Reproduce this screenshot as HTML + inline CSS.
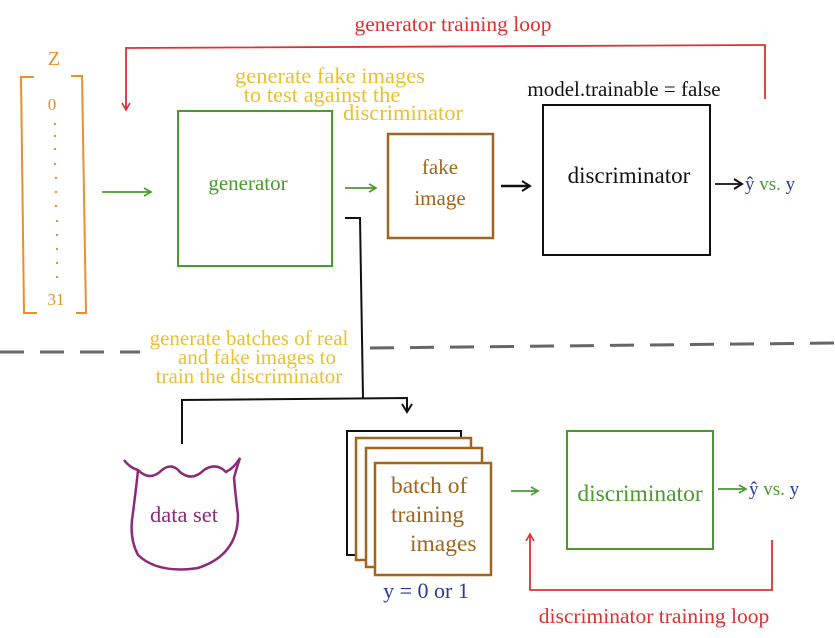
<!DOCTYPE html>
<html><head><style>
html,body{margin:0;padding:0;background:#fff;}
svg{display:block;font-family:"Liberation Serif",serif;}
</style></head><body>
<svg width="835" height="638" viewBox="0 0 835 638" xmlns="http://www.w3.org/2000/svg">
<defs>
<marker id="ag" markerWidth="10" markerHeight="10" refX="8" refY="5" orient="auto" markerUnits="userSpaceOnUse"><path d="M1,1 L8,5 L1,9" fill="none" stroke="#4a9a2e" stroke-width="1.6"/></marker>
<marker id="ak" markerWidth="12" markerHeight="12" refX="9" refY="6" orient="auto" markerUnits="userSpaceOnUse"><path d="M1,1 L9,6 L1,11" fill="none" stroke="#111" stroke-width="2"/></marker>
<marker id="ar" markerWidth="10" markerHeight="10" refX="8" refY="5" orient="auto" markerUnits="userSpaceOnUse"><path d="M1,1 L8,5 L1,9" fill="none" stroke="#e03030" stroke-width="1.6"/></marker>
</defs>
<text x="453" y="31" fill="#e03030" font-size="21.5" text-anchor="middle">generator training loop</text>
<polyline points="765,99 765,45 126,48 126,110" fill="none" stroke="#e03030" stroke-width="1.8" marker-end="url(#ar)"/>
<text x="54" y="65" fill="#e8902a" font-size="20" text-anchor="middle">Z</text>
<polyline points="34,77 21,77 24,313 37,313" fill="none" stroke="#e8902a" stroke-width="2"/>
<polyline points="71,76 82,76 86,313 76,313" fill="none" stroke="#e8902a" stroke-width="2"/>
<text x="52" y="110" fill="#e8902a" font-size="17" text-anchor="middle">0</text>
<g fill="#e8902a">
<circle cx="55" cy="124" r="1.2"/><circle cx="55" cy="136" r="1.2"/><circle cx="55" cy="149" r="1.2"/><circle cx="55" cy="164" r="1.2"/><circle cx="56" cy="178" r="1.2"/><circle cx="56" cy="192" r="1.2"/><circle cx="56" cy="206" r="1.2"/><circle cx="57" cy="221" r="1.2"/><circle cx="57" cy="235" r="1.2"/><circle cx="57" cy="249" r="1.2"/><circle cx="57" cy="263" r="1.2"/><circle cx="57" cy="277" r="1.2"/>
</g>
<text x="56" y="305" fill="#e8902a" font-size="17" text-anchor="middle">31</text>
<line x1="102" y1="192" x2="151" y2="192" stroke="#4a9a2e" stroke-width="1.8" marker-end="url(#ag)"/>
<rect x="178" y="111" width="154" height="155" fill="none" stroke="#4a9a2e" stroke-width="2"/>
<text x="248" y="190" fill="#4a9a2e" font-size="21" text-anchor="middle">generator</text>
<text fill="#e8c030" font-size="22.5" text-anchor="middle"><tspan x="330" y="83">generate fake images</tspan><tspan x="322" y="102">to test against the</tspan><tspan x="403" y="120">discriminator</tspan></text>
<line x1="345" y1="188" x2="376" y2="188" stroke="#4a9a2e" stroke-width="1.8" marker-end="url(#ag)"/>
<rect x="388" y="134" width="105" height="104" fill="none" stroke="#a0661e" stroke-width="2.5"/>
<text fill="#a0661e" font-size="21" text-anchor="middle"><tspan x="440" y="174">fake</tspan><tspan x="440" y="205">image</tspan></text>
<line x1="501" y1="186" x2="530" y2="186" stroke="#111" stroke-width="2.5" marker-end="url(#ak)"/>
<text x="624" y="96" fill="#111" font-size="21" text-anchor="middle">model.trainable = false</text>
<rect x="543" y="105" width="167" height="150" fill="none" stroke="#111" stroke-width="2"/>
<text x="629" y="183" fill="#111" font-size="23" text-anchor="middle">discriminator</text>
<line x1="715" y1="184" x2="742" y2="184" stroke="#111" stroke-width="1.8" marker-end="url(#ak)"/>
<text x="745" y="190" font-size="19"><tspan fill="#2a3a9a">ŷ</tspan><tspan fill="#4a9a2e"> vs.</tspan><tspan fill="#2a3a9a"> y</tspan></text>
<line x1="0" y1="352" x2="140" y2="352" stroke="#666" stroke-width="3" stroke-dasharray="24,16"/>
<line x1="370" y1="348" x2="835" y2="343" stroke="#666" stroke-width="3" stroke-dasharray="24,16"/>
<text fill="#e8c030" font-size="21" text-anchor="middle"><tspan x="249" y="345">generate batches of real</tspan><tspan x="257" y="364">and fake images to</tspan><tspan x="249" y="383">train the discriminator</tspan></text>
<polyline points="345,218 360,218 363,398" fill="none" stroke="#111" stroke-width="2"/>
<polyline points="182,444 182,400 407,398 407,412" fill="none" stroke="#111" stroke-width="2" marker-end="url(#ak)"/>
<path d="M124,460 Q130,468 138,470 Q150,482 162,470 Q172,462 180,472 Q192,482 204,470 Q216,462 226,472 Q234,468 240,458 Q236,470 234,478 Q236,500 238,515 Q238,555 198,568 Q158,574 138,555 Q130,540 132,520 Q136,490 138,470" fill="none" stroke="#8b2a7a" stroke-width="2.5"/>
<text x="184" y="522" fill="#8b2a7a" font-size="22.5" text-anchor="middle">data set</text>
<rect x="347" y="431" width="114" height="124" fill="#fff" stroke="#111" stroke-width="2"/>
<rect x="356" y="438" width="115" height="122" fill="#fff" stroke="#a0661e" stroke-width="2.5"/>
<rect x="366" y="448" width="116" height="119" fill="#fff" stroke="#a0661e" stroke-width="2.5"/>
<rect x="375" y="463" width="116" height="112" fill="#fff" stroke="#a0661e" stroke-width="2.5"/>
<text fill="#a0661e" font-size="23.5"><tspan x="391" y="493">batch of</tspan><tspan x="391" y="522">training</tspan><tspan x="410" y="551">images</tspan></text>
<text x="426" y="598" fill="#2a3a9a" font-size="22" text-anchor="middle">y = 0 or 1</text>
<line x1="511" y1="491" x2="538" y2="491" stroke="#4a9a2e" stroke-width="1.8" marker-end="url(#ag)"/>
<rect x="567" y="431" width="146" height="118" fill="none" stroke="#4a9a2e" stroke-width="2"/>
<text x="640" y="501" fill="#4a9a2e" font-size="23.5" text-anchor="middle">discriminator</text>
<line x1="718" y1="489" x2="746" y2="489" stroke="#4a9a2e" stroke-width="1.8" marker-end="url(#ag)"/>
<text x="749" y="495" font-size="19"><tspan fill="#2a3a9a">ŷ</tspan><tspan fill="#4a9a2e"> vs.</tspan><tspan fill="#2a3a9a"> y</tspan></text>
<polyline points="772,540 772,590 530,590 530,534" fill="none" stroke="#e03030" stroke-width="1.8" marker-end="url(#ar)"/>
<text x="654" y="623" fill="#e03030" font-size="21.5" text-anchor="middle">discriminator training loop</text>
</svg>
</body></html>
